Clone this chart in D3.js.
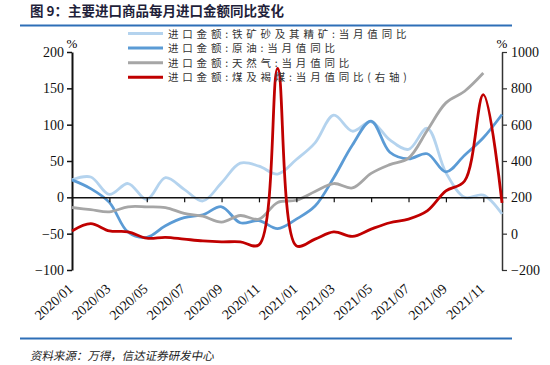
<!DOCTYPE html>
<html>
  <head>
    <meta charset="utf-8">
    <title>主要进口商品每月进口金额同比变化</title>
    <script src="https://cdn.jsdelivr.net/npm/d3@7"></script>
    <style>
      body { margin: 0; background: #fff; }
      svg { display: block; }
    </style>
  </head>

  <body>
    <script>
      // Måneder (x-aksen)
      const months = [
        "2020/01", "2020/02", "2020/03", "2020/04", "2020/05", "2020/06",
        "2020/07", "2020/08", "2020/09", "2020/10", "2020/11", "2020/12",
        "2021/01", "2021/02", "2021/03", "2021/04", "2021/05", "2021/06",
        "2021/07", "2021/08", "2021/09", "2021/10", "2021/11", "2021/12"
      ];
      const tickMonths = [
        "2020/01", "2020/03", "2020/05", "2020/07", "2020/09", "2020/11",
        "2021/01", "2021/03", "2021/05", "2021/07", "2021/09", "2021/11"
      ];

      // Serier (venstre akse, %)
      const ironOre = [24, 28, 4, 19, -3, 27, 11, -5, 20, 47, 43, 32,
                       52, 75, 113, 91, 104, 79, 66, 95, 34, 0, 3, -23];
      const crudeOil = [24, 12, -7, -48, -55, -39, -28, -24, -13, -35, -32, -43,
                        -30, -12, 27, 72, 105, 62, 53, 60, 35, 58, 82, 114];
      const natGas = [-14, -17, -20, -13, -13, -14, -22, -26, -34, -25, -30, -7,
                      -4, 8, 19, 13, 33, 45, 54, 92, 130, 146, 171, null];
      // Højre akse (%)
      const coal = [15, 55, 15, 10, -25, -20, -30, -40, -45, -45, -62, 910,
                    -67, -30, 10, -15, 25, 60, 80, 125, 235, 290, 765, 170];

      const leftTicks = [-100, -50, 0, 50, 100, 150, 200];
      const rightTicks = [-200, 0, 200, 400, 600, 800, 1000];

      const legendNames = [
        "进口金额:铁矿砂及其精矿:当月值同比",
        "进口金额:原油:当月值同比",
        "进口金额:天然气:当月值同比",
        "进口金额:煤及褐煤:当月值同比(右轴)"
      ];
      const colors = ["#b4d3ee", "#5b9bd5", "#a6a6a6", "#c00000"];

      const w = 550;
      const h = 365;
      const serif = "'Liberation Serif', 'Times New Roman', serif";
      const cjk = "'Noto Sans CJK SC', sans-serif";

      const svg = d3.select("body").append("svg")
        .attr("width", w)
        .attr("height", h);

      // Titel og streger
      svg.append("text")
        .attr("x", 30).attr("y", 16)
        .attr("font-family", cjk)
        .attr("font-size", "13.5px")
        .attr("font-weight", "bold")
        .attr("fill", "#1f1f3a")
        .text("图 9：主要进口商品每月进口金额同比变化");

      svg.append("line")
        .attr("x1", 20).attr("x2", 512)
        .attr("y1", 25.5).attr("y2", 25.5)
        .attr("stroke", "#2e6fb7").attr("stroke-width", 2);

      svg.append("line")
        .attr("x1", 20).attr("x2", 512)
        .attr("y1", 338.5).attr("y2", 338.5)
        .attr("stroke", "#2e6fb7").attr("stroke-width", 2);

      // Kilde (kursiv via skew, CJK-fonten har ingen kursiv)
      svg.append("text")
        .attr("transform", "translate(30,360) skewX(-12)")
        .attr("font-family", cjk)
        .attr("font-size", "11.5px")
        .attr("fill", "#222")
        .text("资料来源：万得，信达证券研发中心");

      // Skalaer
      const x = d3.scalePoint().domain(months).range([72, 502]);
      const yL = d3.scaleLinear().domain([-100, 200]).range([270, 52]);
      const yR = d3.scaleLinear().domain([-200, 1000]).range([270, 52]);

      // Venstre akse
      const gL = svg.append("g")
        .attr("transform", "translate(72,0)")
        .call(d3.axisLeft(yL).tickValues(leftTicks).tickSize(5).tickSizeOuter(0));
      gL.select(".domain").attr("stroke", "#111").attr("stroke-width", 2);
      gL.selectAll(".tick line").attr("stroke", "#111").attr("stroke-width", 1.5);
      gL.selectAll(".tick text")
        .attr("font-family", serif).attr("font-size", "14px").attr("fill", "#111")
        .attr("x", -8);

      // Højre akse
      const gR = svg.append("g")
        .attr("transform", "translate(502,0)")
        .call(d3.axisRight(yR).tickValues(rightTicks).tickSize(5).tickSizeOuter(0)
          .tickFormat(d3.format("d")));
      gR.select(".domain").attr("stroke", "#333").attr("stroke-width", 1.5);
      gR.selectAll(".tick line").attr("stroke", "#333").attr("stroke-width", 1.2);
      gR.selectAll(".tick text")
        .attr("font-family", serif).attr("font-size", "14px").attr("fill", "#111")
        .attr("x", 9);

      // % tegn
      svg.append("text").attr("x", 72).attr("y", 48)
        .attr("text-anchor", "middle")
        .attr("font-family", serif).attr("font-size", "13px").text("%");
      svg.append("text").attr("x", 502).attr("y", 48)
        .attr("text-anchor", "middle")
        .attr("font-family", serif).attr("font-size", "13px").text("%");

      // Linjer
      const lineL = d3.line()
        .defined(d => d.v !== null)
        .x(d => x(d.m))
        .y(d => yL(d.v))
        .curve(d3.curveCatmullRom.alpha(0.5));
      const lineR = d3.line()
        .x(d => x(d.m))
        .y(d => yR(d.v))
        .curve(d3.curveCatmullRom.alpha(0.5));

      const leftSeries = [ironOre, crudeOil, natGas];
      leftSeries.forEach(function (s, i) {
        svg.append("path")
          .datum(s.map((v, j) => ({ m: months[j], v: v })))
          .attr("fill", "none")
          .attr("stroke", colors[i])
          .attr("stroke-width", 2.8)
          .attr("d", lineL);
      });

      // X-akse ved nul
      const gX = svg.append("g")
        .attr("transform", "translate(0," + yL(0) + ")")
        .call(d3.axisBottom(x).tickValues(tickMonths).tickSize(5).tickSizeOuter(0).tickFormat(""));
      gX.select(".domain").attr("stroke", "#111").attr("stroke-width", 1.5);
      gX.selectAll(".tick line").attr("stroke", "#111").attr("stroke-width", 1.2);

      svg.append("path")
        .datum(coal.map((v, j) => ({ m: months[j], v: v })))
        .attr("fill", "none")
        .attr("stroke", colors[3])
        .attr("stroke-width", 2.8)
        .attr("d", lineR);

      // Måned-etiketter
      svg.selectAll(".mlabel")
        .data(tickMonths)
        .enter()
        .append("text")
        .attr("class", "mlabel")
        .attr("transform", d => "translate(" + (x(d) + 2) + ",290) rotate(-42)")
        .attr("text-anchor", "end")
        .attr("font-family", serif)
        .attr("font-size", "14px")
        .attr("fill", "#111")
        .text(d => d);

      // Legend
      const leg = svg.append("g");
      legendNames.forEach(function (name, i) {
        const ly = 33.5 + i * 14.6;
        leg.append("line")
          .attr("x1", 128).attr("x2", 163)
          .attr("y1", ly).attr("y2", ly)
          .attr("stroke", colors[i]).attr("stroke-width", 3);
        leg.append("text")
          .attr("x", 168).attr("y", ly + 4)
          .attr("font-family", cjk)
          .attr("font-size", "10.5px")
          .attr("letter-spacing", "3.8px")
          .attr("fill", "#333")
          .text(name);
      });
    </script>
  </body>
</html>
